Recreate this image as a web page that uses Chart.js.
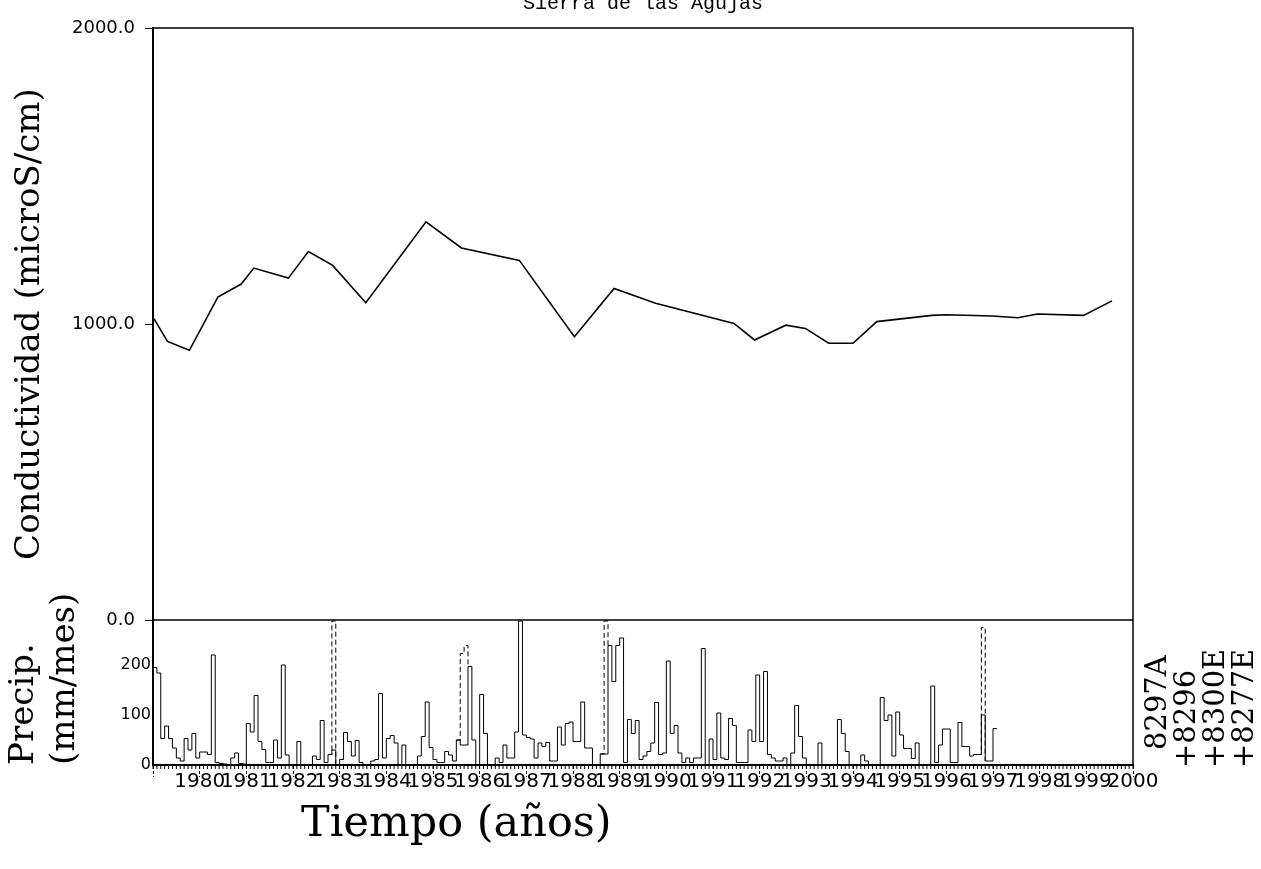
<!DOCTYPE html>
<html>
<head>
<meta charset="utf-8">
<title>Sierra de las Agujas</title>
<script src="https://cdn.jsdelivr.net/npm/chart.js@4.4.1/dist/chart.umd.min.js"></script>
<style>
  body { margin: 0; background: #fff; }
</style>
</head>
<body>
<canvas id="chart" width="1261" height="869"></canvas>
<script>
// conductivity (microS/cm)
const condYears = [1979.02, 1979.31, 1979.78, 1980.39, 1980.89, 1981.16, 1981.90, 1982.33, 1982.85,
  1983.56, 1984.85, 1985.61, 1986.85, 1988.03, 1988.88, 1989.77, 1991.45, 1991.89, 1992.56, 1992.98,
  1993.48, 1994.00, 1994.51, 1995.69, 1996.00, 1996.99, 1997.53, 1997.95, 1998.94, 1999.55];
const condValues = [1018, 941, 911, 1091, 1135, 1189, 1155, 1245, 1198,
  1072, 1345, 1257, 1215, 957, 1120, 1070, 1002, 946, 996, 985,
  935, 935, 1008, 1029, 1031, 1027, 1021, 1034, 1029, 1078];
const condTicks = [0, 1000, 2000];

// monthly precipitation (mm/mes), station 8297A, from Jan 1979
const precipStart = 1979;
const precip8297A = [
  195, 184, 53, 78, 53, 34, 14, 8, 53, 30,
  63, 14, 26, 26, 21, 220, 5, 3, 2, 0,
  14, 24, 3, 2, 83, 66, 139, 47, 31, 5,
  5, 50, 14, 200, 20, 1, 1, 47, 1, 1,
  1, 18, 11, 89, 5, 21, 30, 1, 11, 65,
  47, 18, 49, 5, 0, 0, 8, 11, 143, 14,
  53, 59, 44, 1, 40, 0, 0, 0, 18, 57,
  126, 35, 11, 5, 5, 27, 20, 8, 50, 40,
  40, 197, 50, 1, 141, 63, 0, 0, 14, 5,
  40, 14, 14, 66, 288, 60, 55, 52, 14, 44,
  37, 45, 8, 8, 76, 40, 83, 86, 47, 47,
  126, 34, 34, 1, 1, 22, 22, 239, 167, 239,
  254, 5, 91, 63, 89, 11, 18, 27, 44, 125,
  21, 24, 208, 63, 79, 24, 5, 14, 5, 14,
  14, 233, 1, 52, 11, 104, 14, 11, 93, 79,
  5, 5, 5, 70, 47, 180, 47, 187, 21, 14,
  8, 8, 14, 1, 24, 119, 57, 14, 0, 0,
  0, 44, 1, 1, 1, 1, 91, 63, 27, 0,
  0, 0, 20, 8, 0, 0, 0, 135, 89, 100,
  18, 106, 60, 33, 33, 13, 44, 0, 0, 0,
  158, 5, 40, 72, 72, 5, 5, 85, 37, 37,
  18, 21, 21, 100, 8, 8, 73
];
// dashed station 8296: only the months where it shows above the others
const months8296 = [45, 46, 47, 48, 78, 79, 80, 81, 82, 115, 116, 117, 118, 212, 213, 214];
const values8296 = [21, 288, 1, null, 50, 223, 239, 197, null, 22, 288, 239, null, 21, 275, 8];
const precipTicks = [0, 100, 200];

const stations = ['8297A', '+8296', '+8300E', '+8277E'];
const titleText = 'Sierra de las Agujas';
const xTitle = 'Tiempo (años)';

const condData = condYears.map((x, i) => ({ x: x, y: condValues[i] }));
const mainData = precip8297A.map((v, i) => ({ x: precipStart + i / 12, y: v }));
mainData.push({ x: precipStart + precip8297A.length / 12, y: precip8297A[precip8297A.length - 1] });
const dashData = months8296.map((m, i) => ({ x: precipStart + m / 12, y: values8296[i] }));

const extras = {
  id: 'extras',
  afterDraw(chart) {
    const { ctx, chartArea: a, scales } = chart;
    ctx.save();
    ctx.strokeStyle = '#000';
    ctx.lineWidth = 1.5;
    ctx.strokeRect(a.left, a.top, a.right - a.left, a.bottom - a.top);
    const y0 = scales.y.getPixelForValue(0);
    ctx.beginPath();
    ctx.moveTo(a.left, y0);
    ctx.lineTo(a.right, y0);
    ctx.stroke();

    // monthly minor ticks under the time axis
    ctx.lineWidth = 1;
    ctx.beginPath();
    for (let m = 0; m <= 21 * 12; m++) {
      const px = scales.x.getPixelForValue(1979 + m / 12);
      ctx.moveTo(px, a.bottom);
      ctx.lineTo(px, a.bottom + 4);
    }
    ctx.stroke();

    ctx.fillStyle = '#000';
    ctx.textAlign = 'center';
    ctx.textBaseline = 'middle';
    ctx.font = '20px "Liberation Mono"';
    ctx.fillText(titleText, (a.left + a.right) / 2, 4);
    ctx.font = '43px "DejaVu Serif"';
    ctx.fillText(xTitle, scales.x.getPixelForValue(1985.5), 825);

    ctx.font = '29px "DejaVu Serif"';
    ctx.textAlign = 'left';
    stations.forEach((s, i) => {
      ctx.save();
      ctx.translate(a.right + 25 + i * 29, i === 0 ? 750 : 768);
      ctx.rotate(-Math.PI / 2);
      ctx.fillText(s, 0, 0);
      ctx.restore();
    });
    ctx.restore();
  }
};

new Chart(document.getElementById('chart'), {
  type: 'line',
  data: {
    datasets: [
      { label: 'Conductividad', data: condData, yAxisID: 'y', borderColor: '#000', borderWidth: 1.6,
        pointRadius: 0, tension: 0 },
      { label: '8297A', data: mainData, yAxisID: 'y2', borderColor: '#000', borderWidth: 1,
        pointRadius: 0, stepped: true },
      { label: '8296', data: dashData, yAxisID: 'y2', borderColor: '#000', borderWidth: 1,
        borderDash: [5, 3], pointRadius: 0, stepped: true, spanGaps: false }
    ]
  },
  options: {
    responsive: false,
    animation: false,
    layout: { padding: { top: 28, right: 128, left: 0, bottom: 0 } },
    plugins: { legend: { display: false }, tooltip: { enabled: false } },
    scales: {
      x: {
        type: 'linear', min: 1979, max: 2000,
        afterFit: s => { s.height = 104; },
        ticks: { stepSize: 1, autoSkip: false, maxRotation: 0, padding: -7, color: '#000',
          font: { family: 'DejaVu Sans', size: 20 },
          callback: v => v === 1979 ? '' : String(v) },
        grid: { drawOnChartArea: false, tickLength: 12, color: '#000', tickBorderDash: [3, 2] },
        border: { color: '#000', width: 2 }
      },
      y: {
        stack: 'panels', stackWeight: 592, weight: 1, min: 0, max: 2000,
        afterBuildTicks: s => { s.ticks = condTicks.map(v => ({ value: v })); },
        afterFit: s => { s.width = 153; },
        ticks: { padding: 10, color: '#000', font: { family: 'DejaVu Sans', size: 18 },
          callback: v => v.toFixed(1) },
        grid: { drawOnChartArea: false, tickLength: 8, color: '#000' },
        border: { color: '#000', width: 2 },
        title: { display: true, text: 'Conductividad (microS/cm)', color: '#000',
          font: { family: 'DejaVu Serif', size: 34, lineHeight: 1.2 }, padding: { top: 10, bottom: 0 } }
      },
      y2: {
        stack: 'panels', stackWeight: 145, weight: 0, min: 0, max: 290,
        afterBuildTicks: s => { s.ticks = precipTicks.map(v => ({ value: v })); },
        afterFit: s => { s.width = 153; },
        ticks: { padding: -6, color: '#000', font: { family: 'DejaVu Sans', size: 16 },
          callback: v => String(v) },
        grid: { display: false },
        border: { color: '#000', width: 2 },
        title: { display: true, text: ['Precip.', '(mm/mes)'], align: 'start', color: '#000',
          font: { family: 'DejaVu Serif', size: 34, lineHeight: 1.2 }, padding: { top: 4, bottom: 0 } }
      }
    }
  },
  plugins: [extras]
});
</script>
</body>
</html>
